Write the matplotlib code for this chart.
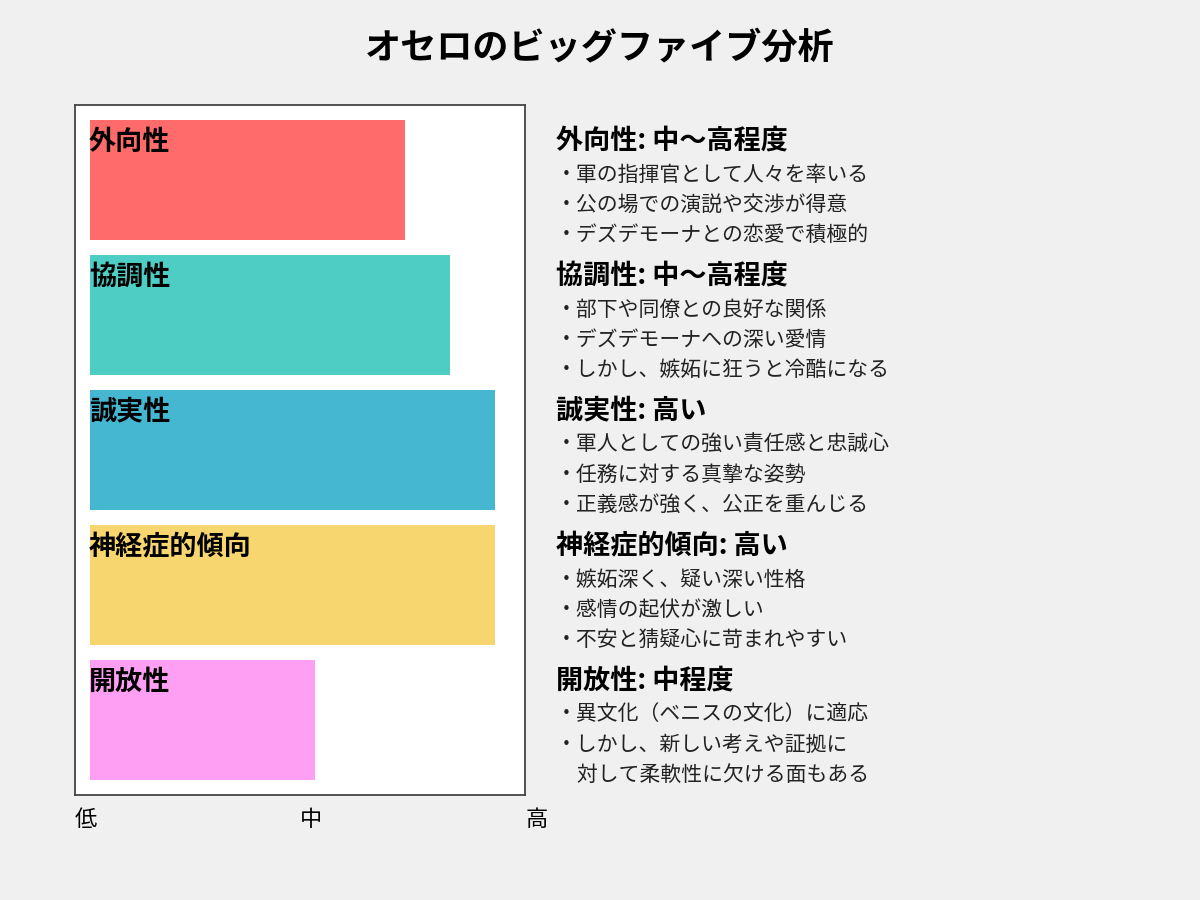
import numpy as np
import matplotlib.pyplot as plt
from matplotlib.transforms import blended_transform_factory

plt.rcParams['font.family'] = ['Noto Sans CJK JP', 'DejaVu Sans']

# データ
traits = ['外向性', '協調性', '誠実性', '神経症的傾向', '開放性']
scores = [7, 8, 9, 9, 5]  # 10段階
levels = ['中〜高程度', '中〜高程度', '高い', '高い', '中程度']
details = [
    ['軍の指揮官として人々を率いる', '公の場での演説や交渉が得意', 'デズデモーナとの恋愛で積極的'],
    ['部下や同僚との良好な関係', 'デズデモーナへの深い愛情', 'しかし、嫉妬に狂うと冷酷になる'],
    ['軍人としての強い責任感と忠誠心', '任務に対する真摯な姿勢', '正義感が強く、公正を重んじる'],
    ['嫉妬深く、疑い深い性格', '感情の起伏が激しい', '不安と猜疑心に苛まれやすい'],
    ['異文化（ベニスの文化）に適応', 'しかし、新しい考えや証拠に\n対して柔軟性に欠ける面もある'],
]
scale_labels = ['低', '中', '高']
colors = ['#FF6B6B', '#4ECDC4', '#45B7D1', '#F7D56F', '#FF9FF3']

fig = plt.figure(figsize=(12, 9), dpi=100, facecolor='#f0f0f0')
ax = fig.add_axes([75/1200, 105/900, 450/1200, 690/900])
ax.set_facecolor('white')

unit = 135.0  # px per row
n = len(traits)
y = np.arange(n)
pad = 15/450*100
ax.barh(y, [s*10 for s in scores], left=pad, height=120/unit, color=colors)
ax.set_xlim(0, 100)
ax.set_ylim(n - 1 + 75/unit, -75/unit)
ax.set_xticks([])
ax.set_yticks([])
for sp in ax.spines.values():
    sp.set_color('#444444')
    sp.set_linewidth(1.3)

tr = blended_transform_factory(ax.transAxes, ax.transData)
x0 = (556 - 75)/450
for i, t in enumerate(traits):
    top = i - 60/unit
    ax.text(pad - 0.2, top + 22/unit, t, ha='left', va='center', fontsize=19.5,
            fontweight='bold', color='black')

    ax.text(x0, top + 21/unit, f'{t}: {levels[i]}', transform=tr, ha='left',
            va='center', fontsize=19.5, fontweight='bold', clip_on=False)
    row = 0
    for d in details[i]:
        lines = d.split('\n')
        for k, ln in enumerate(lines):
            s = '・' + ln if k == 0 else '\u3000' + ln
            ax.text(x0, top + (54.5 + 30*row)/unit, s, transform=tr, ha='left',
                    va='center', fontsize=15, color='#222222', clip_on=False)
            row += 1

# 目盛りラベル
ty = -24/690
ax.text(0, ty, scale_labels[0], transform=ax.transAxes, ha='left', va='center', fontsize=16)
ax.text((311-75)/450, ty, scale_labels[1], transform=ax.transAxes, ha='center', va='center', fontsize=16)
ax.text((548-75)/450, ty, scale_labels[2], transform=ax.transAxes, ha='right', va='center', fontsize=16)

fig.text(0.5, 1 - 49/900, 'オセロのビッグファイブ分析', ha='center', va='center',
         fontsize=26, fontweight='bold')

fig.savefig('out.png', dpi=100, facecolor=fig.get_facecolor())
